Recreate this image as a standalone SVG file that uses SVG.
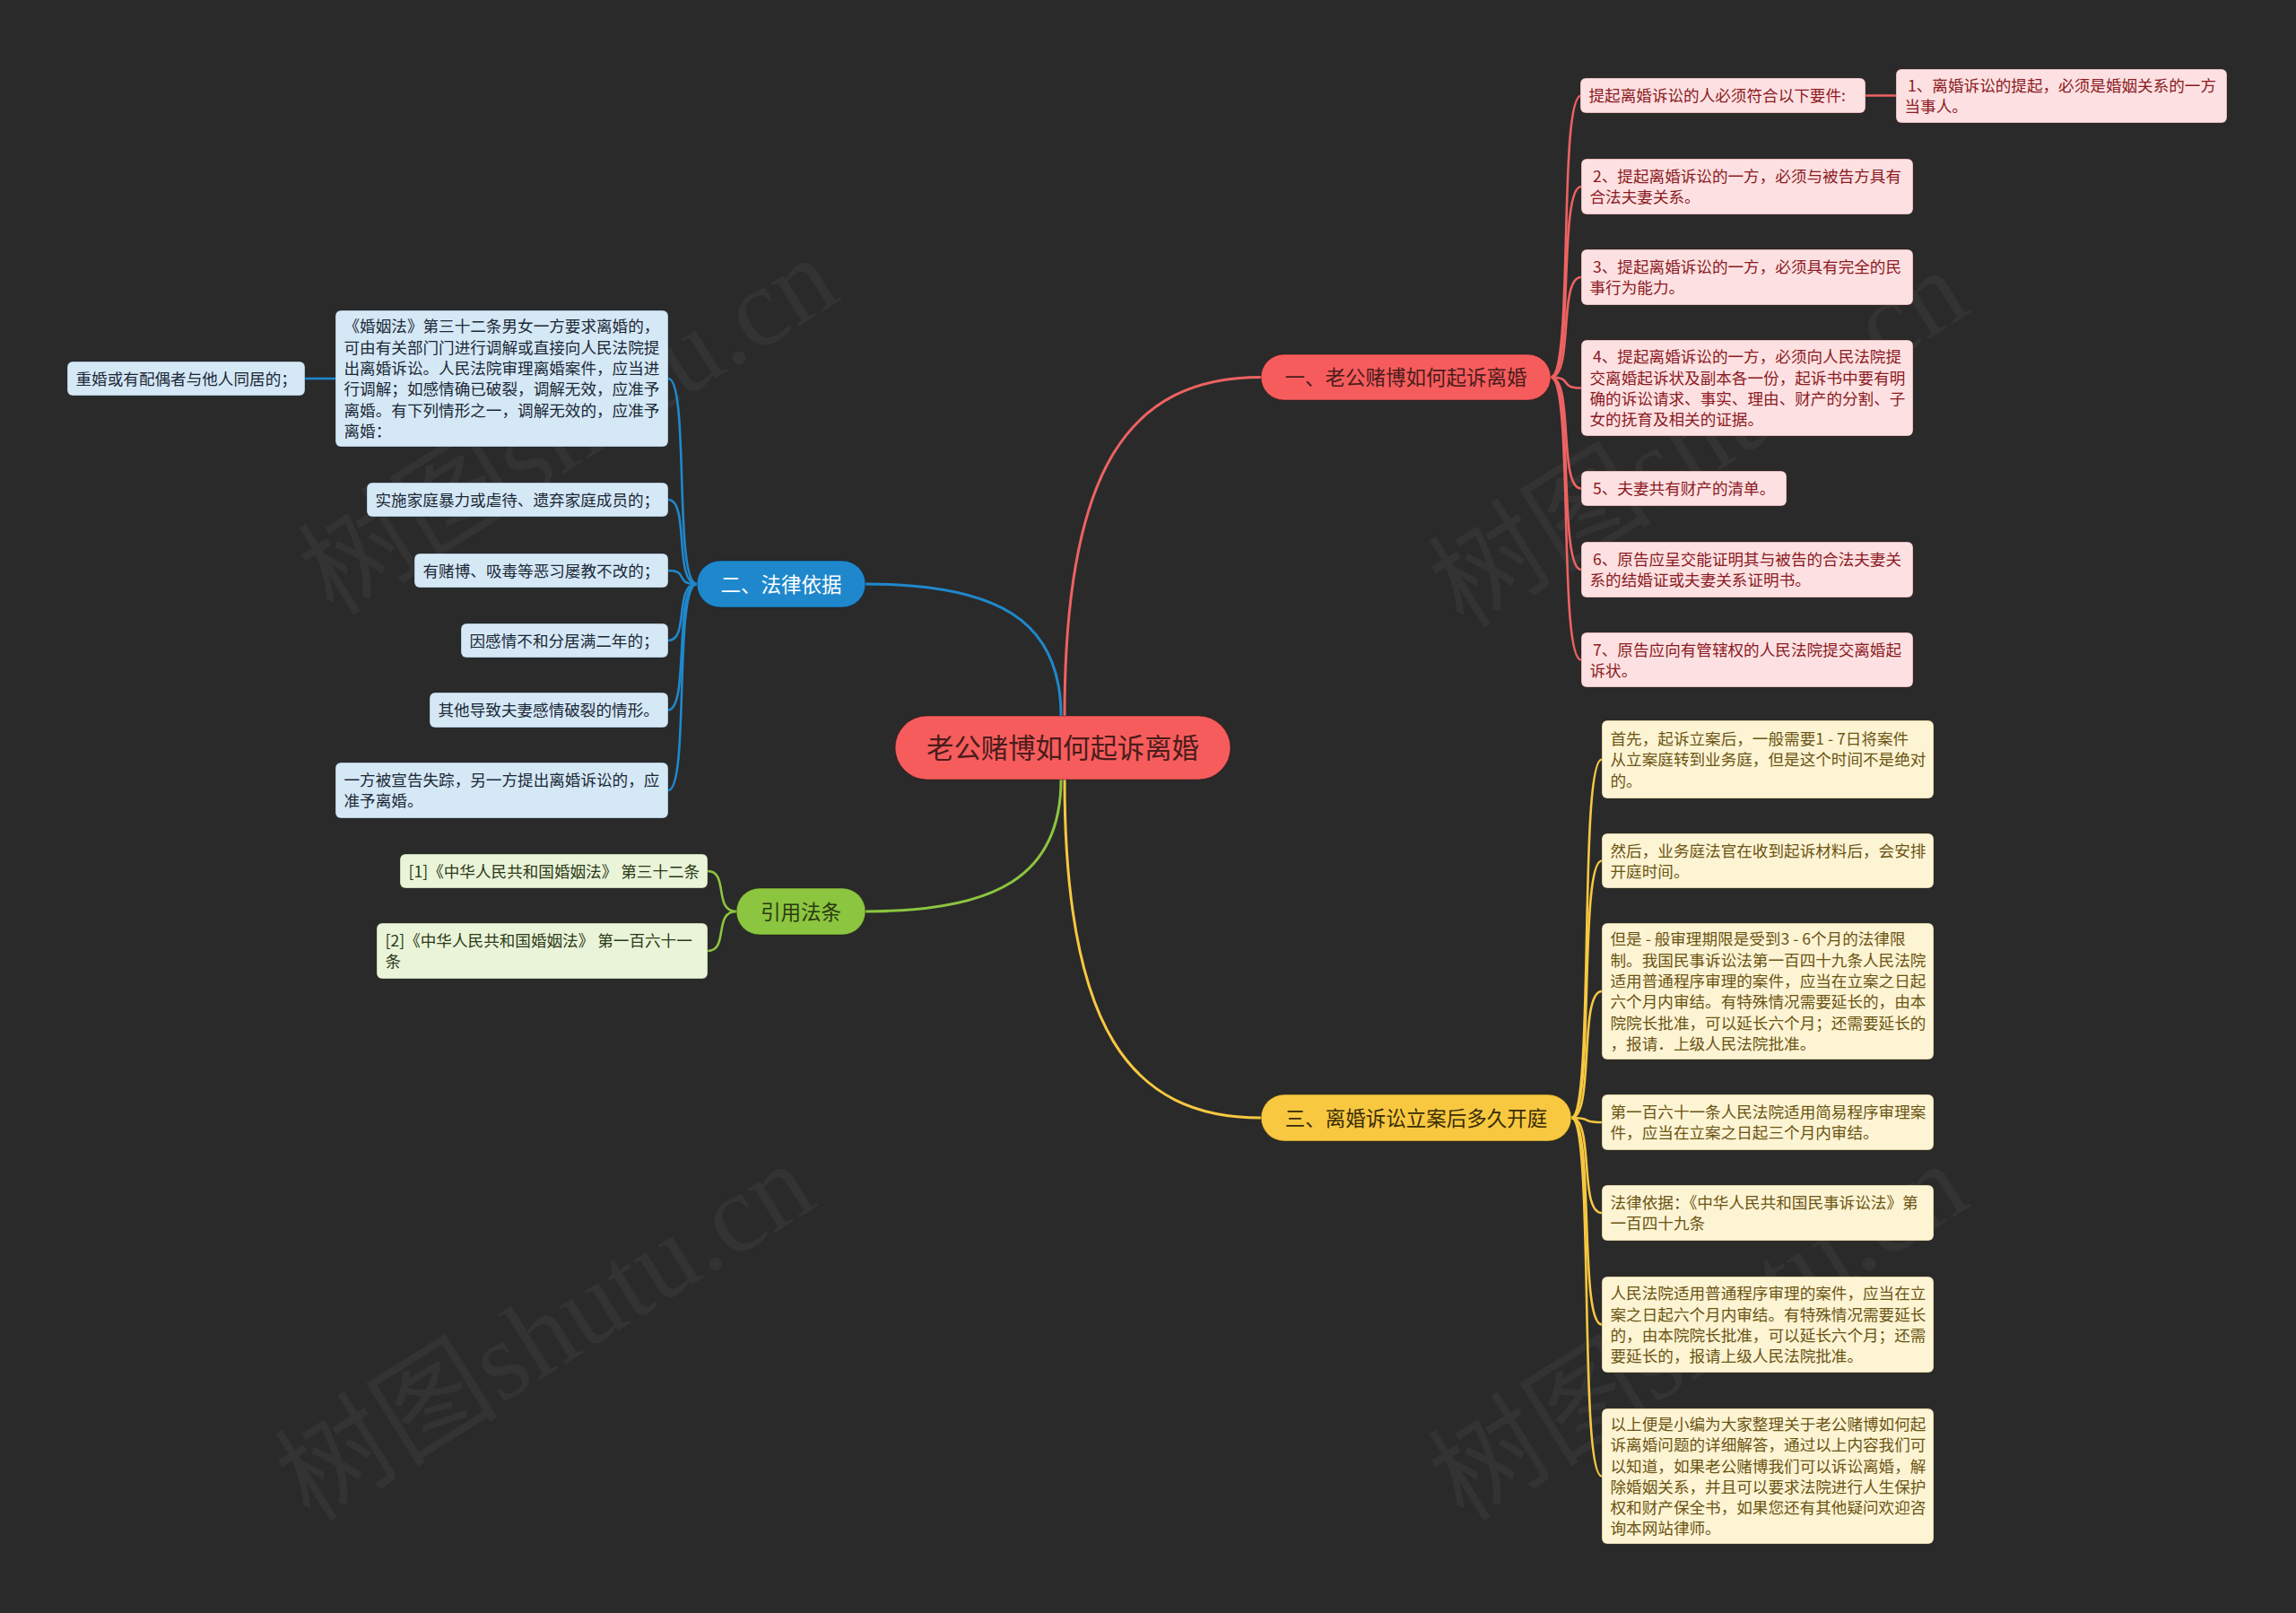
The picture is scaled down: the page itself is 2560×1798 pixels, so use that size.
<svg xmlns="http://www.w3.org/2000/svg" width="2560" height="1798" viewBox="0 0 2560 1798">
<style>
.bg{fill:#2a2a2a}
.wm{font-family:"Liberation Serif","Noto Sans CJK SC",serif;font-size:125px;fill:#333333}
text{font-family:"Noto Sans CJK SC","Noto Sans",sans-serif}
.t{font-size:17.6px}
.pk rect{fill:#fde1e2;stroke:#5a1a1a;stroke-opacity:.35;stroke-width:1}
.pk text{fill:#8b1a22}
.bl rect{fill:#d5e8f6;stroke:#10283a;stroke-opacity:.35;stroke-width:1}
.bl text{fill:#1b2836}
.yl rect{fill:#fdf4d4;stroke:#4a3a05;stroke-opacity:.35;stroke-width:1}
.yl text{fill:#6b5413}
.gr rect{fill:#eaf4d9;stroke:#2a3a10;stroke-opacity:.35;stroke-width:1}
.gr text{fill:#2b3a17}
.br text{font-size:22.5px;text-anchor:middle}
.c{fill:none;stroke-width:2.6}
.cm{fill:none;stroke-width:3}
.r{stroke:#ee6262}.b{stroke:#1f88cc}.g{stroke:#8cc540}.y{stroke:#f8c840}
</style>
<rect class="bg" x="0" y="0" width="2560" height="1798"/>
<g id="watermarks">
<text class="wm" x="372" y="688" transform="rotate(-32 372 688)">树图shutu.cn</text>
<text class="wm" x="1632" y="702" transform="rotate(-32 1632 702)">树图shutu.cn</text>
<text class="wm" x="346" y="1698" transform="rotate(-32 346 1698)">树图shutu.cn</text>
<text class="wm" x="1632" y="1698" transform="rotate(-32 1632 1698)">树图shutu.cn</text>
</g>
<g id="connectors">
<path class="cm r" d="M1187 798 C1187 520 1260 420.5 1406 420.5"/>
<path class="cm b" d="M1183 798 C1183 690 1110 651 965 651"/>
<path class="cm g" d="M1183 869 C1183 977 1110 1016 965 1016"/>
<path class="cm y" d="M1187 869 C1187 1146 1260 1246 1406 1246"/>
<path class="c r" d="M1729 420.5 C1755 420.5 1737 106.5 1763 106.5"/>
<path class="c r" d="M2080 106.5 L2114 106.5"/>
<path class="c r" d="M1729 420.5 C1755 420.5 1737 208 1763 208"/>
<path class="c r" d="M1729 420.5 C1755 420.5 1737 309 1763 309"/>
<path class="c r" d="M1729 420.5 C1755 420.5 1737 432.5 1763 432.5"/>
<path class="c r" d="M1729 420.5 C1755 420.5 1737 544.5 1763 544.5"/>
<path class="c r" d="M1729 420.5 C1755 420.5 1737 635 1763 635"/>
<path class="c r" d="M1729 420.5 C1755 420.5 1737 735.5 1763 735.5"/>
<path class="c b" d="M777 651 C751 651 769 422 745 422"/>
<path class="c b" d="M374 422 L340 422"/>
<path class="c b" d="M777 651 C751 651 769 557 745 557"/>
<path class="c b" d="M777 651 C751 651 769 636 745 636"/>
<path class="c b" d="M777 651 C751 651 769 714 745 714"/>
<path class="c b" d="M777 651 C751 651 769 791.5 745 791.5"/>
<path class="c b" d="M777 651 C751 651 769 881 745 881"/>
<path class="c g" d="M821 1016 C795 1016 813 971 789 971"/>
<path class="c g" d="M821 1016 C795 1016 813 1060 789 1060"/>
<path class="c y" d="M1752 1246 C1778 1246 1760 846.5 1786 846.5"/>
<path class="c y" d="M1752 1246 C1778 1246 1760 959.5 1786 959.5"/>
<path class="c y" d="M1752 1246 C1778 1246 1760 1105 1786 1105"/>
<path class="c y" d="M1752 1246 C1778 1246 1760 1251 1786 1251"/>
<path class="c y" d="M1752 1246 C1778 1246 1760 1352 1786 1352"/>
<path class="c y" d="M1752 1246 C1778 1246 1760 1476.5 1786 1476.5"/>
<path class="c y" d="M1752 1246 C1778 1246 1760 1645.5 1786 1645.5"/>
</g>
<g id="root">
<rect x="998" y="798" width="374" height="71" rx="35.5" fill="#f75c5c" stroke="#3a1414" stroke-opacity=".5" stroke-width="1.2"/>
<text x="1185" y="845" font-size="30.4" text-anchor="middle" fill="#4a1c1c">老公赌博如何起诉离婚</text>
</g>
<g id="branch1" class="br">
<rect x="1406" y="395" width="323" height="51" rx="25.5" fill="#f75c5c" stroke="#3a1414" stroke-opacity=".5"/>
<text x="1567.5" y="429" fill="#4a1c1c">一、老公赌博如何起诉离婚</text>
</g>
<g id="branch2" class="br">
<rect x="777" y="625" width="188" height="52" rx="26" fill="#1f88cc" stroke="#0a2030" stroke-opacity=".5"/>
<text x="871" y="659.5" fill="#ffffff">二、法律依据</text>
</g>
<g id="branch-cite" class="br">
<rect x="821" y="990" width="144" height="52" rx="26" fill="#8cc540" stroke="#1e2a08" stroke-opacity=".5"/>
<text x="893" y="1024.5" fill="#2a3a10">引用法条</text>
</g>
<g id="branch3" class="br">
<rect x="1406" y="1220" width="346" height="52" rx="26" fill="#f8c840" stroke="#3a2c05" stroke-opacity=".5"/>
<text x="1579" y="1254.5" fill="#3a2c05">三、离婚诉讼立案后多久开庭</text>
</g>
<g id="p0" class="pk"><rect x="1762" y="87" width="318" height="39" rx="6"/><text class="t" x="1771.5" y="113.2">提起离婚诉讼的人必须符合以下要件:</text></g>
<g id="p1" class="pk"><rect x="2114" y="77" width="369" height="60" rx="6"/><text class="t"><tspan x="2127" y="102">1、离婚诉讼的提起，必须是婚姻关系的一方</tspan><tspan x="2123.5" y="125.3">当事人。</tspan></text></g>
<g id="p2" class="pk"><rect x="1763" y="177" width="370" height="62" rx="6"/><text class="t"><tspan x="1776" y="203">2、提起离婚诉讼的一方，必须与被告方具有</tspan><tspan x="1772.5" y="226.3">合法夫妻关系。</tspan></text></g>
<g id="p3" class="pk"><rect x="1763" y="278" width="370" height="62" rx="6"/><text class="t"><tspan x="1776" y="304">3、提起离婚诉讼的一方，必须具有完全的民</tspan><tspan x="1772.5" y="327.3">事行为能力。</tspan></text></g>
<g id="p4" class="pk"><rect x="1763" y="379" width="370" height="107" rx="6"/><text class="t"><tspan x="1776" y="404.2">4、提起离婚诉讼的一方，必须向人民法院提</tspan><tspan x="1772.5" y="427.5">交离婚起诉状及副本各一份，起诉书中要有明</tspan><tspan x="1772.5" y="450.8">确的诉讼请求、事实、理由、财产的分割、子</tspan><tspan x="1772.5" y="474.1">女的抚育及相关的证据。</tspan></text></g>
<g id="p5" class="pk"><rect x="1763" y="525" width="229" height="39" rx="6"/><text class="t" x="1776" y="551.2">5、夫妻共有财产的清单。</text></g>
<g id="p6" class="pk"><rect x="1763" y="604" width="370" height="62" rx="6"/><text class="t"><tspan x="1776" y="630">6、原告应呈交能证明其与被告的合法夫妻关</tspan><tspan x="1772.5" y="653.3">系的结婚证或夫妻关系证明书。</tspan></text></g>
<g id="p7" class="pk"><rect x="1763" y="705" width="370" height="61" rx="6"/><text class="t"><tspan x="1776" y="730.5">7、原告应向有管辖权的人民法院提交离婚起</tspan><tspan x="1772.5" y="753.8">诉状。</tspan></text></g>
<g id="y1" class="yl"><rect x="1786" y="803" width="370" height="87" rx="6"/><text class="t"><tspan x="1795.5" y="829.9">首先，起诉立案后，一般需要1 - 7日将案件</tspan><tspan x="1795.5" y="853.2">从立案庭转到业务庭，但是这个时间不是绝对</tspan><tspan x="1795.5" y="876.5">的。</tspan></text></g>
<g id="y2" class="yl"><rect x="1786" y="929" width="370" height="61" rx="6"/><text class="t"><tspan x="1795.5" y="954.5">然后，业务庭法官在收到起诉材料后，会安排</tspan><tspan x="1795.5" y="977.8">开庭时间。</tspan></text></g>
<g id="y3" class="yl"><rect x="1786" y="1029" width="370" height="152" rx="6"/><text class="t"><tspan x="1795.5" y="1053.4">但是 - 般审理期限是受到3 - 6个月的法律限</tspan><tspan x="1795.5" y="1076.7">制。我国民事诉讼法第一百四十九条人民法院</tspan><tspan x="1795.5" y="1100">适用普通程序审理的案件，应当在立案之日起</tspan><tspan x="1795.5" y="1123.3">六个月内审结。有特殊情况需要延长的，由本</tspan><tspan x="1795.5" y="1146.6">院院长批准，可以延长六个月；还需要延长的</tspan><tspan x="1795.5" y="1169.9">，报请．上级人民法院批准。</tspan></text></g>
<g id="y4" class="yl"><rect x="1786" y="1220" width="370" height="62" rx="6"/><text class="t"><tspan x="1795.5" y="1246">第一百六十一条人民法院适用简易程序审理案</tspan><tspan x="1795.5" y="1269.3">件，应当在立案之日起三个月内审结。</tspan></text></g>
<g id="y5" class="yl"><rect x="1786" y="1321" width="370" height="62" rx="6"/><text class="t"><tspan x="1795.5" y="1347">法律依据：《中华人民共和国民事诉讼法》第</tspan><tspan x="1795.5" y="1370.3">一百四十九条</tspan></text></g>
<g id="y6" class="yl"><rect x="1786" y="1423" width="370" height="107" rx="6"/><text class="t"><tspan x="1795.5" y="1448.2">人民法院适用普通程序审理的案件，应当在立</tspan><tspan x="1795.5" y="1471.5">案之日起六个月内审结。有特殊情况需要延长</tspan><tspan x="1795.5" y="1494.8">的，由本院院长批准，可以延长六个月；还需</tspan><tspan x="1795.5" y="1518.1">要延长的，报请上级人民法院批准。</tspan></text></g>
<g id="y7" class="yl"><rect x="1786" y="1570" width="370" height="151" rx="6"/><text class="t"><tspan x="1795.5" y="1593.9">以上便是小编为大家整理关于老公赌博如何起</tspan><tspan x="1795.5" y="1617.2">诉离婚问题的详细解答，通过以上内容我们可</tspan><tspan x="1795.5" y="1640.5">以知道，如果老公赌博我们可以诉讼离婚，解</tspan><tspan x="1795.5" y="1663.8">除婚姻关系，并且可以要求法院进行人生保护</tspan><tspan x="1795.5" y="1687.1">权和财产保全书，如果您还有其他疑问欢迎咨</tspan><tspan x="1795.5" y="1710.4">询本网站律师。</tspan></text></g>
<g id="b0" class="bl"><rect x="374" y="346" width="371" height="152" rx="6"/><text class="t"><tspan x="383.5" y="370.4">《婚姻法》第三十二条男女一方要求离婚的，</tspan><tspan x="383.5" y="393.7">可由有关部门门进行调解或直接向人民法院提</tspan><tspan x="383.5" y="417">出离婚诉讼。人民法院审理离婚案件，应当进</tspan><tspan x="383.5" y="440.3">行调解；如感情确已破裂，调解无效，应准予</tspan><tspan x="383.5" y="463.6">离婚。有下列情形之一，调解无效的，应准予</tspan><tspan x="383.5" y="486.9">离婚：</tspan></text></g>
<g id="b1" class="bl"><rect x="75" y="403" width="265" height="38" rx="6"/><text class="t" x="84.5" y="428.6">重婚或有配偶者与他人同居的；</text></g>
<g id="b2" class="bl"><rect x="409" y="538" width="336" height="38" rx="6"/><text class="t" x="418.5" y="563.6">实施家庭暴力或虐待、遗弃家庭成员的；</text></g>
<g id="b3" class="bl"><rect x="462" y="617" width="283" height="38" rx="6"/><text class="t" x="471.5" y="642.6">有赌博、吸毒等恶习屡教不改的；</text></g>
<g id="b4" class="bl"><rect x="514" y="695" width="231" height="38" rx="6"/><text class="t" x="523.5" y="720.6">因感情不和分居满二年的；</text></g>
<g id="b5" class="bl"><rect x="479" y="772" width="266" height="39" rx="6"/><text class="t" x="488.5" y="798.2">其他导致夫妻感情破裂的情形。</text></g>
<g id="b6" class="bl"><rect x="374" y="850" width="371" height="62" rx="6"/><text class="t"><tspan x="383.5" y="876">一方被宣告失踪，另一方提出离婚诉讼的，应</tspan><tspan x="383.5" y="899.3">准予离婚。</tspan></text></g>
<g id="g1" class="gr"><rect x="446" y="952" width="343" height="38" rx="6"/><text class="t" x="455.5" y="977.6">[1]《中华人民共和国婚姻法》 第三十二条</text></g>
<g id="g2" class="gr"><rect x="420" y="1029" width="369" height="62" rx="6"/><text class="t"><tspan x="429.5" y="1055">[2]《中华人民共和国婚姻法》 第一百六十一</tspan><tspan x="429.5" y="1078.3">条</tspan></text></g>
</svg>
